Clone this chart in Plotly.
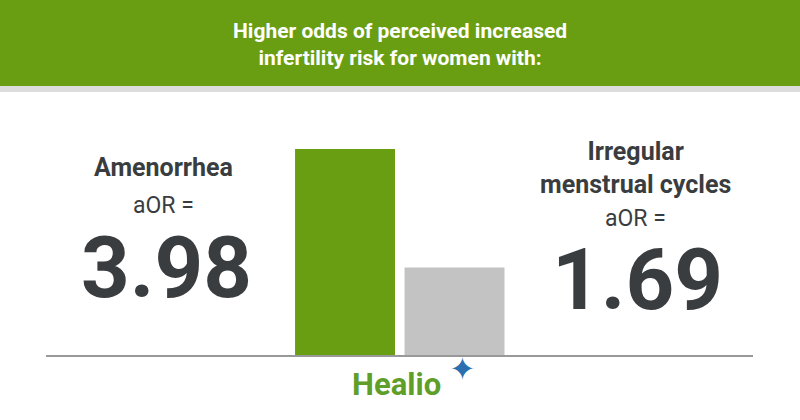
import plotly.graph_objects as go

categories = ["Amenorrhea", "Irregular menstrual cycles"]
aor_values = [3.98, 1.69]
bar_colors = ["#6a9e12", "#c3c3c3"]
value_labels = ["3.98", "1.69"]
title_text = "<b>Higher odds of perceived increased<br>infertility risk for women with:</b>"

W, H = 800, 420
L, R, T, B = 46, 47, 148, 65
PW, PH = W - L - R, H - T - B

def px(x):
    return (x - L) / PW

def py(y):
    return (H - B - y) / PH

fig = go.Figure()
fig.add_trace(go.Bar(
    x=categories, y=aor_values, marker_color=bar_colors,
    marker_line_width=0, width=0.913, hoverinfo="skip",
))

shapes = [
    dict(type="rect", xref="paper", yref="paper", x0=px(0), x1=px(800), y0=py(0), y1=py(86),
         fillcolor="#6a9e12", line_width=0, layer="below"),
    dict(type="rect", xref="paper", yref="paper", x0=px(0), x1=px(800), y0=py(86), y1=py(92),
         fillcolor="#dddddd", line_width=0, layer="below"),
]

dark = "#3a3d40"
ann = [
    dict(text=title_text, x=px(400), y=py(44), font=dict(family="Roboto", size=21, color="white")),
    dict(text="<b>" + categories[0] + "</b>", x=px(163), y=py(167), font=dict(family="Roboto", size=25, color=dark)),
    dict(text="aOR =", x=px(163), y=py(205), height=26, font=dict(family="Roboto", size=23, color=dark)),
    dict(text="<b>" + value_labels[0] + "</b>", x=px(166), y=py(268), height=68, font=dict(family="Roboto", size=85, color=dark)),
    dict(text="<b>Irregular<br>menstrual cycles</b>", x=px(635), y=py(168), font=dict(family="Roboto", size=25, color=dark)),
    dict(text="aOR =", x=px(635), y=py(218), height=26, font=dict(family="Roboto", size=23, color=dark)),
    dict(text="<b>" + value_labels[1] + "</b>", x=px(637), y=py(280), height=68, font=dict(family="Roboto", size=85, color=dark)),
    dict(text="<b>Healio</b>", x=px(396), y=py(384), font=dict(family="Roboto", size=31, color="#5f9e28")),
    dict(text="✦", x=px(462), y=py(369), font=dict(family="DejaVu Sans", size=32, color="#2a6fb0")),
]
for a in ann:
    a.update(xref="paper", yref="paper", showarrow=False, xanchor="center", yanchor="middle")

fig.update_layout(
    width=W, height=H, margin=dict(l=L, r=R, t=T, b=B),
    paper_bgcolor="white", plot_bgcolor="white",
    showlegend=False, shapes=shapes, annotations=ann,
    xaxis=dict(range=[-2.731, 3.726], showticklabels=False, ticks="", showgrid=False,
               showline=True, linecolor="#999999", linewidth=2, zeroline=False, fixedrange=True),
    yaxis=dict(range=[0, 4.0], visible=False, showgrid=False, zeroline=False, fixedrange=True),
)
fig.write_html("out.html", config={"displayModeBar": False},
               post_script="document.body.style.margin='0';")
